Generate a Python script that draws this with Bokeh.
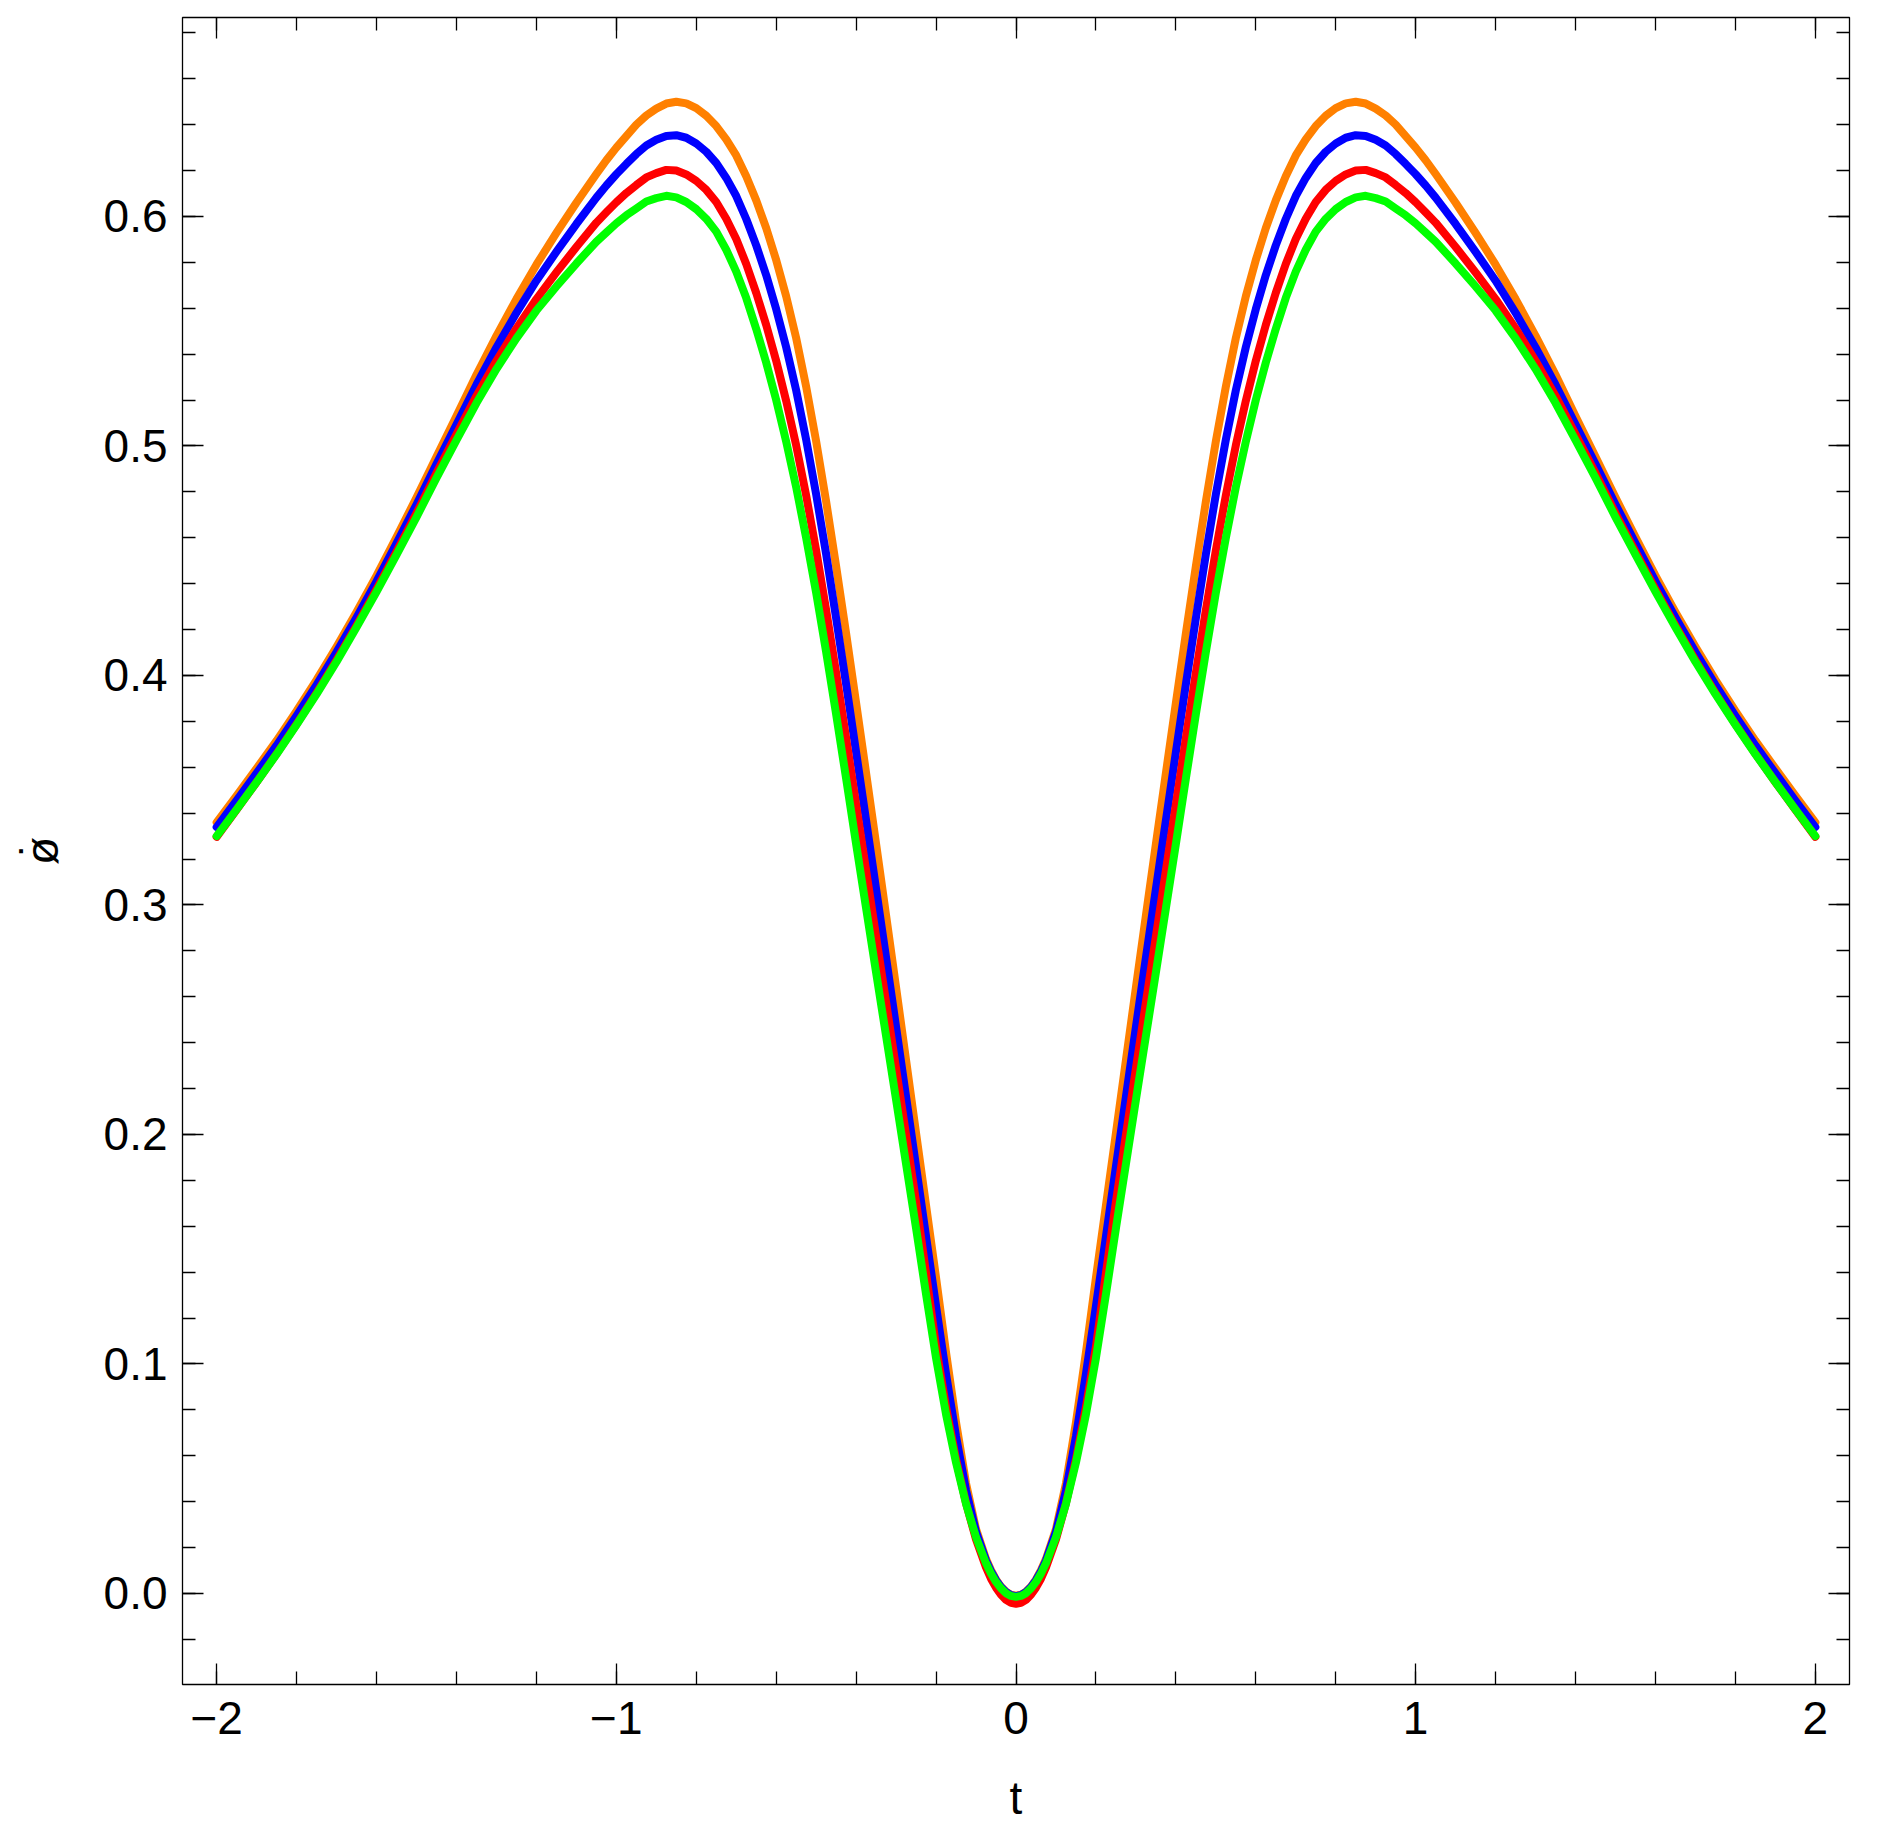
from bokeh.plotting import figure
from bokeh.models import Range1d, LinearAxis, FixedTicker
from bokeh.embed import file_html
from bokeh.resources import INLINE

# ---- data ----
t_left = [-2.0, -1.95, -1.9, -1.85, -1.8, -1.75, -1.7, -1.65, -1.6, -1.55,
          -1.5, -1.45, -1.4, -1.35, -1.3, -1.25, -1.2, -1.15, -1.1, -1.05,
          -1.025, -1.0, -0.975, -0.95, -0.925, -0.9, -0.875, -0.85, -0.825, -0.8,
          -0.775, -0.75, -0.725, -0.7, -0.675, -0.65, -0.625, -0.6, -0.575, -0.55,
          -0.525, -0.5, -0.475, -0.45, -0.425, -0.4, -0.375, -0.35, -0.325, -0.3,
          -0.275, -0.25, -0.225, -0.2, -0.175, -0.15, -0.125, -0.1, -0.075, -0.0625,
          -0.05, -0.0375, -0.025, -0.0125, 0.0]
t_right = [0.0125, 0.025, 0.0375, 0.05, 0.0625, 0.075, 0.1, 0.125, 0.15, 0.175,
           0.2, 0.225, 0.25, 0.275, 0.3, 0.325, 0.35, 0.375, 0.4, 0.425,
           0.45, 0.475, 0.5, 0.525, 0.55, 0.575, 0.6, 0.625, 0.65, 0.675,
           0.7, 0.725, 0.75, 0.775, 0.8, 0.825, 0.85, 0.875, 0.9, 0.925,
           0.95, 0.975, 1.0, 1.025, 1.05, 1.1, 1.15, 1.2, 1.25, 1.3,
           1.35, 1.4, 1.45, 1.5, 1.55, 1.6, 1.65, 1.7, 1.75, 1.8,
           1.85, 1.9, 1.95, 2.0]

orange_left = [0.336, 0.3476, 0.3595, 0.3716, 0.3845, 0.3981, 0.4125, 0.4276, 0.4435, 0.4603,
               0.4775, 0.4953, 0.513, 0.531, 0.548, 0.564, 0.579, 0.5928, 0.606, 0.6185,
               0.6245, 0.630, 0.635, 0.640, 0.644, 0.647, 0.6492, 0.650, 0.6493, 0.6472,
               0.6439, 0.6394, 0.6336, 0.6266, 0.6175, 0.607, 0.5949, 0.581, 0.5652, 0.547,
               0.5258, 0.502, 0.4757, 0.4475, 0.4182, 0.388, 0.3574, 0.3265, 0.2954, 0.264,
               0.2323, 0.2005, 0.169, 0.1375, 0.105, 0.0745, 0.048, 0.028, 0.015, 0.0101,
               0.0061, 0.0029, 0.0008, -0.0006, -0.001]
orange_right = [-0.0006, 0.0008, 0.0029, 0.0061, 0.0101, 0.015, 0.028, 0.048, 0.0745, 0.105,
                0.1375, 0.169, 0.2005, 0.2323, 0.264, 0.2954, 0.3265, 0.3574, 0.388, 0.4182,
                0.4475, 0.4757, 0.502, 0.5258, 0.547, 0.5652, 0.581, 0.5949, 0.607, 0.6175,
                0.6266, 0.6336, 0.6394, 0.6439, 0.6472, 0.6493, 0.650, 0.6492, 0.647, 0.644,
                0.640, 0.635, 0.630, 0.6245, 0.6185, 0.606, 0.5928, 0.579, 0.564, 0.548,
                0.531, 0.513, 0.4953, 0.4775, 0.4603, 0.4435, 0.4276, 0.4125, 0.3981, 0.3845,
                0.3716, 0.3595, 0.3476, 0.336]

blue_left = [0.3339, 0.3455, 0.3574, 0.3695, 0.3824, 0.3959, 0.4102, 0.4253, 0.441, 0.4576,
             0.4745, 0.4921, 0.5093, 0.5267, 0.5429, 0.558, 0.572, 0.5846, 0.5967, 0.6082,
             0.6135, 0.6184, 0.6229, 0.6272, 0.6309, 0.6334, 0.6351, 0.6354, 0.6343, 0.6318,
             0.6282, 0.6233, 0.6168, 0.6089, 0.5989, 0.5874, 0.5744, 0.5596, 0.543, 0.5242,
             0.5027, 0.4789, 0.4528, 0.4249, 0.3961, 0.3665, 0.3368, 0.3069, 0.277, 0.2468,
             0.2164, 0.186, 0.1555, 0.1252, 0.0956, 0.0684, 0.0449, 0.0268, 0.0143, 0.0096,
             0.0057, 0.0027, 0.0006, -0.0008, -0.0012]
blue_right = [-0.0008, 0.0006, 0.0027, 0.0057, 0.0096, 0.0143, 0.0268, 0.0449, 0.0684, 0.0956,
              0.1252, 0.1555, 0.186, 0.2164, 0.2468, 0.277, 0.3069, 0.3368, 0.3665, 0.3961,
              0.4249, 0.4528, 0.4789, 0.5027, 0.5242, 0.543, 0.5596, 0.5744, 0.5874, 0.5989,
              0.6089, 0.6168, 0.6233, 0.6282, 0.6318, 0.6343, 0.6354, 0.6351, 0.6334, 0.6309,
              0.6272, 0.6229, 0.6184, 0.6135, 0.6082, 0.5967, 0.5846, 0.572, 0.558, 0.5429,
              0.5267, 0.5093, 0.4921, 0.4745, 0.4576, 0.441, 0.4253, 0.4102, 0.3959, 0.3824,
              0.3695, 0.3574, 0.3455, 0.3339]

red_left = [0.3297, 0.3415, 0.3535, 0.3659, 0.3788, 0.3924, 0.4067, 0.4218, 0.4376, 0.454,
            0.4707, 0.4882, 0.5051, 0.5218, 0.5371, 0.5512, 0.564, 0.5756, 0.5867, 0.5973,
            0.6018, 0.6062, 0.6102, 0.6137, 0.6170, 0.6189, 0.6203, 0.6200, 0.6183, 0.6155,
            0.6116, 0.6063, 0.5990, 0.5902, 0.5793, 0.5667, 0.5527, 0.5371, 0.5196, 0.5002,
            0.4784, 0.4545, 0.4285, 0.4011, 0.3727, 0.3437, 0.315, 0.2862, 0.2575, 0.2287,
            0.1997, 0.1706, 0.1395, 0.1075, 0.0813, 0.0585, 0.0393, 0.0235, 0.0113, 0.0064,
            0.0025, -0.0006, -0.0028, -0.0041, -0.0045]
red_right = [-0.0041, -0.0028, -0.0006, 0.0025, 0.0064, 0.0113, 0.0235, 0.0393, 0.0585, 0.0813,
             0.1075, 0.1395, 0.1706, 0.1997, 0.2287, 0.2575, 0.2862, 0.315, 0.3437, 0.3727,
             0.4011, 0.4285, 0.4545, 0.4784, 0.5002, 0.5196, 0.5371, 0.5527, 0.5667, 0.5793,
             0.5902, 0.5990, 0.6063, 0.6116, 0.6155, 0.6183, 0.6200, 0.6203, 0.6189, 0.6170,
             0.6137, 0.6102, 0.6062, 0.6018, 0.5973, 0.5867, 0.5756, 0.564, 0.5512, 0.5371,
             0.5218, 0.5051, 0.4882, 0.4707, 0.454, 0.4376, 0.4218, 0.4067, 0.3924, 0.3788,
             0.3659, 0.3535, 0.3415, 0.3297]

green_left = [0.330, 0.3416, 0.3535, 0.3657, 0.3785, 0.3919, 0.406, 0.421, 0.4365, 0.4526,
              0.469, 0.4861, 0.5025, 0.5187, 0.5335, 0.5469, 0.559, 0.5695, 0.5795, 0.589,
              0.593, 0.597, 0.6005, 0.6035, 0.6065, 0.608, 0.609, 0.6083, 0.6063, 0.6032,
              0.599, 0.5934, 0.5855, 0.576, 0.5645, 0.551, 0.5363, 0.520, 0.5019, 0.482,
              0.4599, 0.436, 0.4102, 0.383, 0.355, 0.3265, 0.2985, 0.2705, 0.2428, 0.215,
              0.187, 0.159, 0.1303, 0.1025, 0.078, 0.057, 0.039, 0.0245, 0.0131, 0.0087,
              0.0050, 0.0022, 0.0001, -0.0011, -0.0015]
green_right = [-0.0011, 0.0001, 0.0022, 0.0050, 0.0087, 0.0131, 0.0245, 0.039, 0.057, 0.078,
               0.1025, 0.1303, 0.159, 0.187, 0.215, 0.2428, 0.2705, 0.2985, 0.3265, 0.355,
               0.383, 0.4102, 0.436, 0.4599, 0.482, 0.5019, 0.520, 0.5363, 0.551, 0.5645,
               0.576, 0.5855, 0.5934, 0.599, 0.6032, 0.6063, 0.6083, 0.609, 0.608, 0.6065,
               0.6035, 0.6005, 0.597, 0.593, 0.589, 0.5795, 0.5695, 0.559, 0.5469, 0.5335,
               0.5187, 0.5025, 0.4861, 0.469, 0.4526, 0.4365, 0.421, 0.406, 0.3919, 0.3785,
               0.3657, 0.3535, 0.3416, 0.330]

series_colors = ["#FF8000", "#0000FF", "#FF0000", "#00FF00"]

x_major = [-2, -1, 0, 1, 2]
x_labels = ["\u22122", "\u22121", "0", "1", "2"]
y_major = [0.0, 0.1, 0.2, 0.3, 0.4, 0.5, 0.6]
y_labels = ["0.0", "0.1", "0.2", "0.3", "0.4", "0.5", "0.6"]
x_label = "t"
y_label = "\u00f8\u0307"

x_minor = [round(-2.0 + 0.2 * i, 2) for i in range(21)]
y_minor = [round(-0.02 + 0.02 * i, 2) for i in range(36)]

FONT = "Liberation Sans"

t = t_left + t_right
series = [orange_left + orange_right, blue_left + blue_right,
          red_left + red_right, green_left + green_right]

p = figure(frame_width=1667, frame_height=1667,
           x_range=Range1d(-2.0855, 2.0855), y_range=Range1d(-0.0397, 0.6867),
           output_backend="svg", toolbar_location=None,
           min_border_left=182, min_border_top=17, min_border_right=10, min_border_bottom=10,
           background_fill_color="white", border_fill_color="white")

p.grid.visible = False
p.outline_line_color = "black"
p.outline_line_width = 1.3

p.add_layout(LinearAxis(), "above")
p.add_layout(LinearAxis(), "right")

for ax in p.xaxis:
    ax.ticker = FixedTicker(ticks=x_major, minor_ticks=x_minor)
    ax.major_label_overrides = {k: v for k, v in zip(x_major, x_labels)}
for ax in p.yaxis:
    ax.ticker = FixedTicker(ticks=y_major, minor_ticks=y_minor)
    ax.major_label_overrides = {k: v for k, v in zip(y_major, y_labels)}

for ax in list(p.xaxis) + list(p.yaxis):
    ax.axis_line_color = None
    ax.major_tick_in = 21
    ax.major_tick_out = 0
    ax.minor_tick_in = 13
    ax.minor_tick_out = 0
    ax.major_tick_line_color = "black"
    ax.minor_tick_line_color = "black"
    ax.major_tick_line_width = 1.3
    ax.minor_tick_line_width = 1.3
    ax.major_label_text_font = FONT
    ax.major_label_text_font_size = "46px"
    ax.major_label_text_color = "black"

# mirrored axes: ticks only
for ax in (p.above[0], p.right[0]):
    ax.major_label_text_font_size = "0px"
    ax.major_label_standoff = 0
    ax.major_label_text_alpha = 0

bx = p.below[0]
bx.major_label_standoff = 17
bx.axis_label = x_label
bx.axis_label_text_font = FONT
bx.axis_label_text_font_size = "46px"
bx.axis_label_text_font_style = "normal"
bx.axis_label_text_color = "black"
bx.axis_label_standoff = 35

ly = p.left[0]
ly.major_label_standoff = 15
ly.axis_label = y_label
ly.axis_label_text_font = FONT
ly.axis_label_text_font_size = "46px"
ly.axis_label_text_font_style = "normal"
ly.axis_label_text_color = "black"
ly.axis_label_standoff = 33

for ys, col in zip(series, series_colors):
    p.line(t, ys, line_color=col, line_width=8, line_join="round", line_cap="round")

open("out.html", "w").write(file_html(p, INLINE))
